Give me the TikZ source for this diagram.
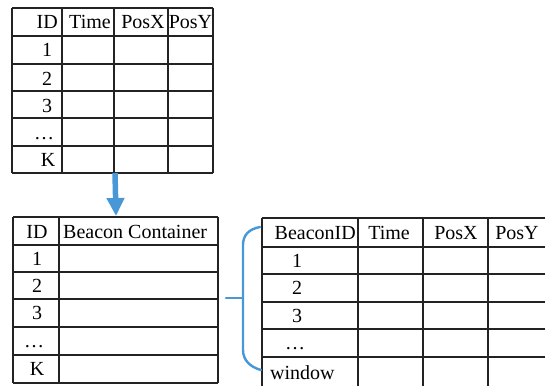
\documentclass[tikz,border=0pt]{standalone}
\usepackage{fontspec}
\setmainfont{Liberation Serif}
\usetikzlibrary{arrows.meta}
\definecolor{bblue}{RGB}{72,152,216}
\definecolor{gline}{RGB}{35,35,35}
\tikzset{
  grid/.style={draw=gline, line width=1.4pt},
  txt/.style={font=\fontsize{20}{24}\selectfont, inner sep=0pt, anchor=base},
  txtl/.style={txt, anchor=base west},
  txtr/.style={txt, anchor=base east},
  bluearrow/.style={draw=bblue, line width=5.5pt, -{Triangle[width=17pt,length=18pt]}},
  bracel/.style={draw=bblue, line width=2.4pt, line cap=round}
}
\begin{document}
\begin{tikzpicture}[x=1pt,y=-1pt]
\useasboundingbox (0,0) rectangle (545,385);
\clip (0,0) rectangle (545,385);
% ---------- top table ----------
\foreach \y in {8,36,64,91,118,146,173} \draw[grid] (12,\y) -- (213,\y);
\foreach \x in {12,62,114,168,213} \draw[grid] (\x,8) -- (\x,173);
\node[txtr] (tid) at (58,28.5) {ID};
\node[txt] (ttime) at (90,28.5) {Time};
\node[txt] (tposx) at (143,28.5) {PosX};
\node[txt] (tposy) at (190.5,28.5) {PosY};
\node[txt] (t1) at (47,57) {1};
\node[txt] (t2) at (47,85) {2};
\node[txt] (t3) at (47,112) {3};
\node[txt] (tdots) at (44,139) {\ldots};
\node[txt] (tk) at (48,166.5) {K};
% ---------- bottom-left table ----------
\foreach \y in {217,245,272,299,327,355,383} \draw[grid] (13,\y) -- (218,\y);
\foreach \x in {13,59,218} \draw[grid] (\x,217) -- (\x,383);
\node[txt] (bid) at (37,238) {ID};
\node[txtl] (bbc) at (63,238) {Beacon Container};
\node[txt] (b1) at (37,265.5) {1};
\node[txt] (b2) at (37,292.5) {2};
\node[txt] (b3) at (37,319.5) {3};
\node[txt] (bdots) at (34,347) {\ldots};
\node[txt] (bk) at (37,375.5) {K};
% ---------- right table ----------
\foreach \y in {218,247,274,302,329,357,388} \draw[grid] (262,\y) -- (550,\y);
\foreach \x in {262,358,423,488,550} \draw[grid] (\x,218) -- (\x,388);
\node[txtl] (rbid) at (274.5,239) {BeaconID};
\node[txt] (rtime) at (389,239) {Time};
\node[txt] (rposx) at (456,239) {PosX};
\node[txt] (rposy) at (517,239) {PosY};
\node[txt] (r1) at (297,267) {1};
\node[txt] (r2) at (297,294.5) {2};
\node[txt] (r3) at (297,322) {3};
\node[txt] (rdots) at (295,349) {\ldots};
\node[txtl] (rwin) at (270,379) {window};
% ---------- connectors ----------
\coordinate (t1s) at (115,173);
\coordinate (t2n) at (116,216);
\draw[bluearrow] (t1s) -- (t2n);
\coordinate (btop) at (260,227);
\coordinate (bbot) at (261,370);
\coordinate (bmid) at (243,298);
\coordinate (stub) at (226,298);
\draw[bracel] (btop) .. controls (249,229) and (243,235) .. (243,245) -- (243,350) .. controls (243,360) and (250,367) .. (bbot);
\draw[bracel] (stub) -- (bmid);
\end{tikzpicture}
\end{document}
